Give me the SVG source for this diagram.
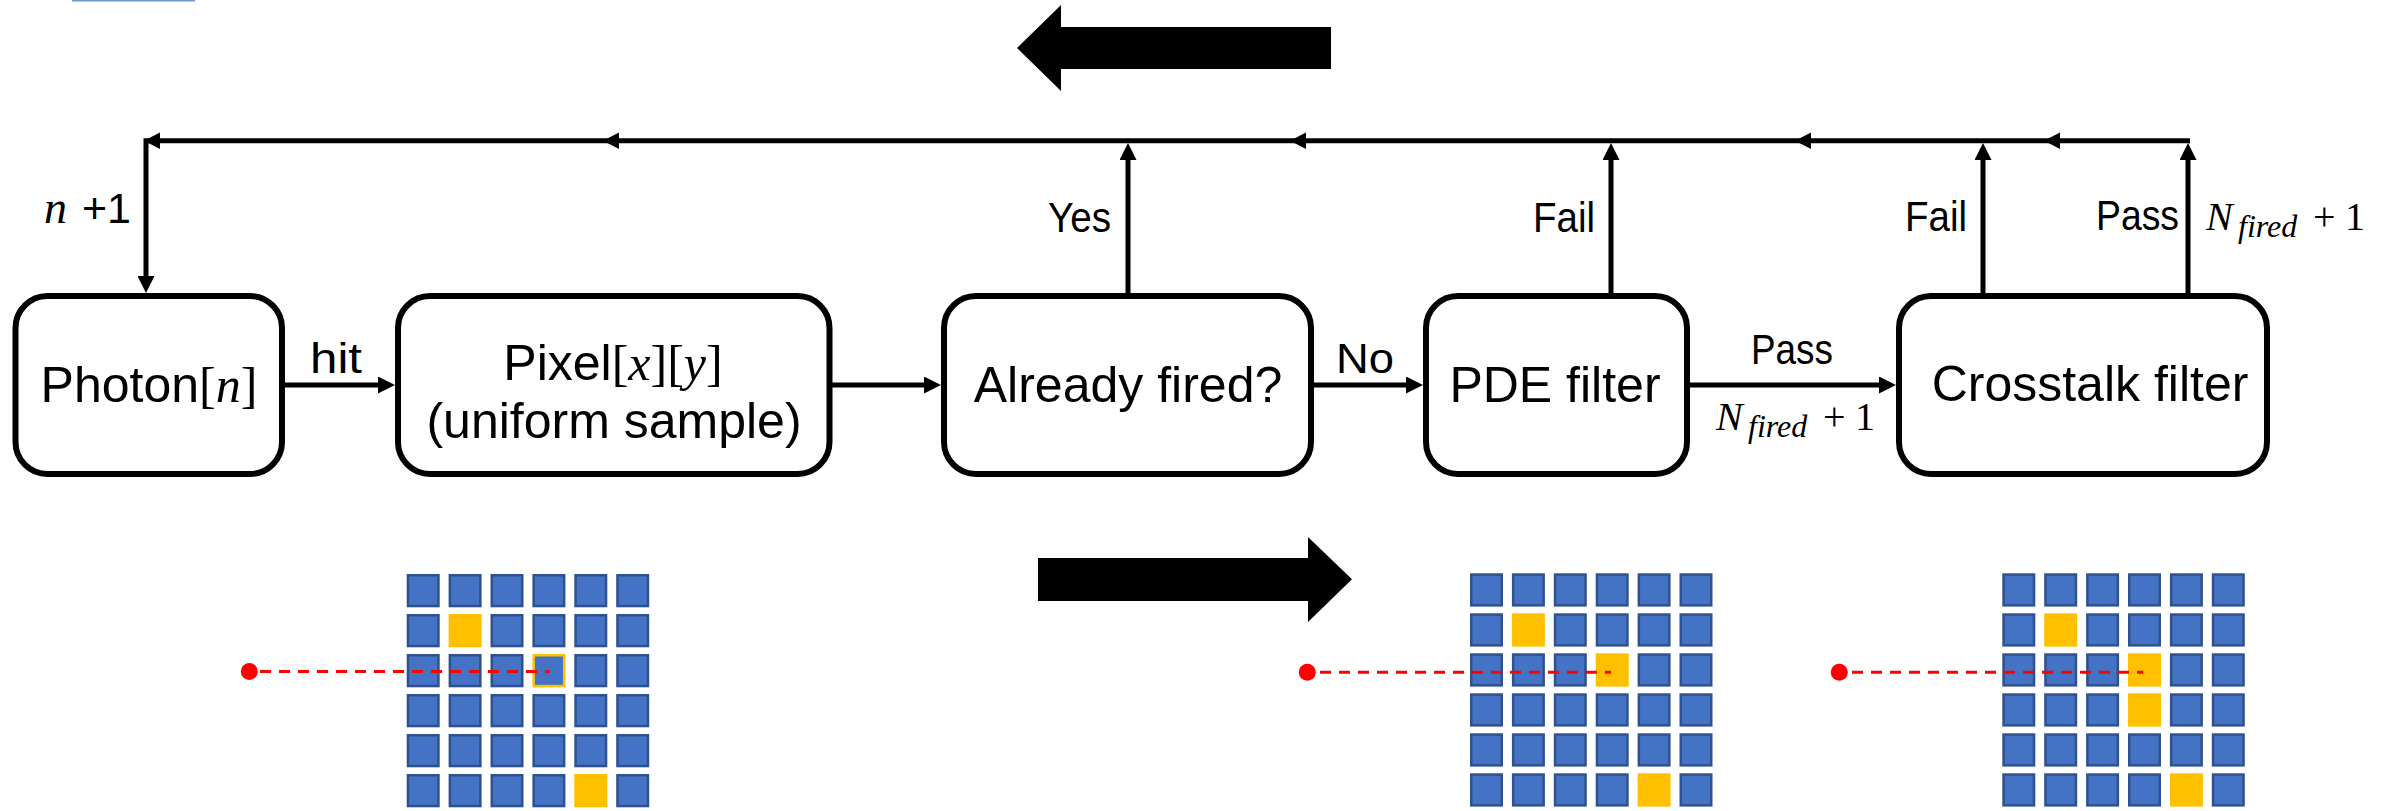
<svg xmlns="http://www.w3.org/2000/svg" xmlns:xlink="http://www.w3.org/1999/xlink" width="2395" height="811" viewBox="0 0 2395 811">
<style>
.box{fill:#fff;stroke:#000;stroke-width:6}
.t{font-family:"Liberation Sans",Arial,sans-serif;font-size:50px;fill:#000}
.lb{font-family:"Liberation Sans",Arial,sans-serif;font-size:43px;fill:#000}
.m{font-family:"Liberation Serif","Times New Roman",serif;fill:#000}
.i{font-style:italic}
.ln{fill:none;stroke:#000;stroke-width:5}
.ah{fill:#000}
.dash{stroke:#FF0000;stroke-width:3;stroke-dasharray:11 8;fill:none}
</style>
<defs>
<marker id="arr" markerUnits="userSpaceOnUse" markerWidth="17" markerHeight="17" refX="7" refY="8.5" orient="auto">
<path d="M0,0 L17,8.5 L0,17 z" fill="#000"/>
</marker>
<rect id="cb" x="1.25" y="1.25" width="30.5" height="30.8" fill="#4472C4" stroke="#2F528F" stroke-width="2.5"/>
<rect id="cy" width="33" height="33.3" fill="#FFC000"/>
<rect id="co" x="1.25" y="1.25" width="30.5" height="30.8" fill="#4472C4" stroke="#FFC000" stroke-width="2.5"/>
</defs>
<rect x="72" y="0" width="123" height="1.5" fill="#7196CB"/>

<!-- big arrows -->
<polygon id="bigLeft" points="1017,48 1061,5 1061,27 1331,27 1331,69 1061,69 1061,91" fill="#000"/>
<polygon id="bigRight" points="1038,558 1308,558 1308,537 1352,579.3 1308,622 1308,601 1038,601" fill="#000"/>

<!-- nodes -->
<g id="photon">
<rect class="box" x="15.5" y="296" width="266.5" height="178" rx="32"/>
<text class="t" x="149" y="402" text-anchor="middle">Photon<tspan class="m">[</tspan><tspan class="m i">n</tspan><tspan class="m">]</tspan></text>
</g>
<g id="pixel">
<rect class="box" x="398" y="296" width="431.5" height="178" rx="32"/>
<text class="t" x="613" y="380" text-anchor="middle">Pixel<tspan class="m">[</tspan><tspan class="m i">x</tspan><tspan class="m">][</tspan><tspan class="m i">y</tspan><tspan class="m">]</tspan></text>
<text class="t" x="614" y="438" text-anchor="middle">(uniform sample)</text>
</g>
<g id="fired">
<rect class="box" x="944" y="296" width="367" height="178" rx="32"/>
<text class="t" x="1128" y="402" text-anchor="middle">Already fired?</text>
</g>
<g id="pde">
<rect class="box" x="1426" y="296" width="261" height="178" rx="32"/>
<text class="t" x="1555" y="402" text-anchor="middle">PDE filter</text>
</g>
<g id="crosstalk">
<rect class="box" x="1899" y="296" width="368" height="178" rx="32"/>
<text class="t" x="2090" y="401" text-anchor="middle">Crosstalk filter</text>
</g>

<!-- connectors -->
<g id="connectors">
<path class="ln" d="M285,385 H385" marker-end="url(#arr)"/>
<path class="ln" d="M832,385 H931" marker-end="url(#arr)"/>
<path class="ln" d="M1314,385 H1413" marker-end="url(#arr)"/>
<path class="ln" d="M1690,385 H1886" marker-end="url(#arr)"/>
<path class="ln" d="M1128,293 V153" marker-end="url(#arr)"/>
<path class="ln" d="M1611,293 V153" marker-end="url(#arr)"/>
<path class="ln" d="M1983,293 V153" marker-end="url(#arr)"/>
<path class="ln" d="M2188,293 V153" marker-end="url(#arr)"/>
<path class="ln" d="M2190,140.7 H146 V283" marker-end="url(#arr)"/>
<polygon class="ah" points="144,140.7 160,132.5 160,149"/>
<polygon class="ah" points="603,140.7 619,132.5 619,149"/>
<polygon class="ah" points="1290,140.7 1306,132.5 1306,149"/>
<polygon class="ah" points="1795,140.7 1811,132.5 1811,149"/>
<polygon class="ah" points="2044,140.7 2060,132.5 2060,149"/>
</g>

<!-- labels -->
<g id="labels">
<text class="lb" x="310" y="373" textLength="52" lengthAdjust="spacingAndGlyphs">hit</text>
<text class="lb" x="1336" y="373" textLength="58" lengthAdjust="spacingAndGlyphs">No</text>
<text class="lb" x="1751" y="364" textLength="82" lengthAdjust="spacingAndGlyphs">Pass</text>
<text class="lb" x="1048" y="232" textLength="63" lengthAdjust="spacingAndGlyphs">Yes</text>
<text class="lb" x="1533" y="232" textLength="62" lengthAdjust="spacingAndGlyphs">Fail</text>
<text class="lb" x="1905" y="231" textLength="62" lengthAdjust="spacingAndGlyphs">Fail</text>
<text class="lb" x="2096" y="230" textLength="83" lengthAdjust="spacingAndGlyphs">Pass</text>
<text y="223"><tspan class="m i" x="44" font-size="46">n</tspan><tspan class="lb" x="82" font-size="44">+1</tspan></text>
<text y="230" class="m" font-size="40"><tspan class="i" x="2206">N</tspan><tspan class="i" x="2238" dy="7" font-size="32">fired</tspan><tspan x="2313" dy="-7">+</tspan><tspan x="2345">1</tspan></text>
<text y="430" class="m" font-size="40"><tspan class="i" x="1716">N</tspan><tspan class="i" x="1748" dy="7" font-size="32">fired</tspan><tspan x="1823" dy="-7">+</tspan><tspan x="1855">1</tspan></text>
</g>

<!-- pixel grid 1 -->
<g id="grid1" transform="translate(406.7,574)">
<use href="#cb" x="0" y="0"/><use href="#cb" x="41.9" y="0"/><use href="#cb" x="83.8" y="0"/><use href="#cb" x="125.7" y="0"/><use href="#cb" x="167.6" y="0"/><use href="#cb" x="209.5" y="0"/>
<use href="#cb" x="0" y="40"/><use href="#cy" x="41.9" y="40"/><use href="#cb" x="83.8" y="40"/><use href="#cb" x="125.7" y="40"/><use href="#cb" x="167.6" y="40"/><use href="#cb" x="209.5" y="40"/>
<use href="#cb" x="0" y="80"/><use href="#cb" x="41.9" y="80"/><use href="#cb" x="83.8" y="80"/><use href="#co" x="125.7" y="80"/><use href="#cb" x="167.6" y="80"/><use href="#cb" x="209.5" y="80"/>
<use href="#cb" x="0" y="120"/><use href="#cb" x="41.9" y="120"/><use href="#cb" x="83.8" y="120"/><use href="#cb" x="125.7" y="120"/><use href="#cb" x="167.6" y="120"/><use href="#cb" x="209.5" y="120"/>
<use href="#cb" x="0" y="160"/><use href="#cb" x="41.9" y="160"/><use href="#cb" x="83.8" y="160"/><use href="#cb" x="125.7" y="160"/><use href="#cb" x="167.6" y="160"/><use href="#cb" x="209.5" y="160"/>
<use href="#cb" x="0" y="200"/><use href="#cb" x="41.9" y="200"/><use href="#cb" x="83.8" y="200"/><use href="#cb" x="125.7" y="200"/><use href="#cy" x="167.6" y="200"/><use href="#cb" x="209.5" y="200"/>
</g>
<g id="ray1">
<line class="dash" x1="260" y1="671.5" x2="550" y2="671.5"/>
<circle cx="249.3" cy="671.5" r="8.5" fill="#FF0000"/>
</g>

<!-- pixel grid 2 -->
<g id="grid2" transform="translate(1470,573.3)">
<use href="#cb" x="0" y="0"/><use href="#cb" x="41.9" y="0"/><use href="#cb" x="83.8" y="0"/><use href="#cb" x="125.7" y="0"/><use href="#cb" x="167.6" y="0"/><use href="#cb" x="209.5" y="0"/>
<use href="#cb" x="0" y="40"/><use href="#cy" x="41.9" y="40"/><use href="#cb" x="83.8" y="40"/><use href="#cb" x="125.7" y="40"/><use href="#cb" x="167.6" y="40"/><use href="#cb" x="209.5" y="40"/>
<use href="#cb" x="0" y="80"/><use href="#cb" x="41.9" y="80"/><use href="#cb" x="83.8" y="80"/><use href="#cy" x="125.7" y="80"/><use href="#cb" x="167.6" y="80"/><use href="#cb" x="209.5" y="80"/>
<use href="#cb" x="0" y="120"/><use href="#cb" x="41.9" y="120"/><use href="#cb" x="83.8" y="120"/><use href="#cb" x="125.7" y="120"/><use href="#cb" x="167.6" y="120"/><use href="#cb" x="209.5" y="120"/>
<use href="#cb" x="0" y="160"/><use href="#cb" x="41.9" y="160"/><use href="#cb" x="83.8" y="160"/><use href="#cb" x="125.7" y="160"/><use href="#cb" x="167.6" y="160"/><use href="#cb" x="209.5" y="160"/>
<use href="#cb" x="0" y="200"/><use href="#cb" x="41.9" y="200"/><use href="#cb" x="83.8" y="200"/><use href="#cb" x="125.7" y="200"/><use href="#cy" x="167.6" y="200"/><use href="#cb" x="209.5" y="200"/>
</g>
<g id="ray2">
<line class="dash" x1="1320" y1="672.3" x2="1611" y2="672.3"/>
<circle cx="1307.3" cy="672.3" r="8.5" fill="#FF0000"/>
</g>

<!-- pixel grid 3 -->
<g id="grid3" transform="translate(2002.3,573.3)">
<use href="#cb" x="0" y="0"/><use href="#cb" x="41.9" y="0"/><use href="#cb" x="83.8" y="0"/><use href="#cb" x="125.7" y="0"/><use href="#cb" x="167.6" y="0"/><use href="#cb" x="209.5" y="0"/>
<use href="#cb" x="0" y="40"/><use href="#cy" x="41.9" y="40"/><use href="#cb" x="83.8" y="40"/><use href="#cb" x="125.7" y="40"/><use href="#cb" x="167.6" y="40"/><use href="#cb" x="209.5" y="40"/>
<use href="#cb" x="0" y="80"/><use href="#cb" x="41.9" y="80"/><use href="#cb" x="83.8" y="80"/><use href="#cy" x="125.7" y="80"/><use href="#cb" x="167.6" y="80"/><use href="#cb" x="209.5" y="80"/>
<use href="#cb" x="0" y="120"/><use href="#cb" x="41.9" y="120"/><use href="#cb" x="83.8" y="120"/><use href="#cy" x="125.7" y="120"/><use href="#cb" x="167.6" y="120"/><use href="#cb" x="209.5" y="120"/>
<use href="#cb" x="0" y="160"/><use href="#cb" x="41.9" y="160"/><use href="#cb" x="83.8" y="160"/><use href="#cb" x="125.7" y="160"/><use href="#cb" x="167.6" y="160"/><use href="#cb" x="209.5" y="160"/>
<use href="#cb" x="0" y="200"/><use href="#cb" x="41.9" y="200"/><use href="#cb" x="83.8" y="200"/><use href="#cb" x="125.7" y="200"/><use href="#cy" x="167.6" y="200"/><use href="#cb" x="209.5" y="200"/>
</g>
<g id="ray3">
<line class="dash" x1="1852" y1="672.3" x2="2143.3" y2="672.3"/>
<circle cx="1839.3" cy="672.3" r="8.5" fill="#FF0000"/>
</g>
</svg>
